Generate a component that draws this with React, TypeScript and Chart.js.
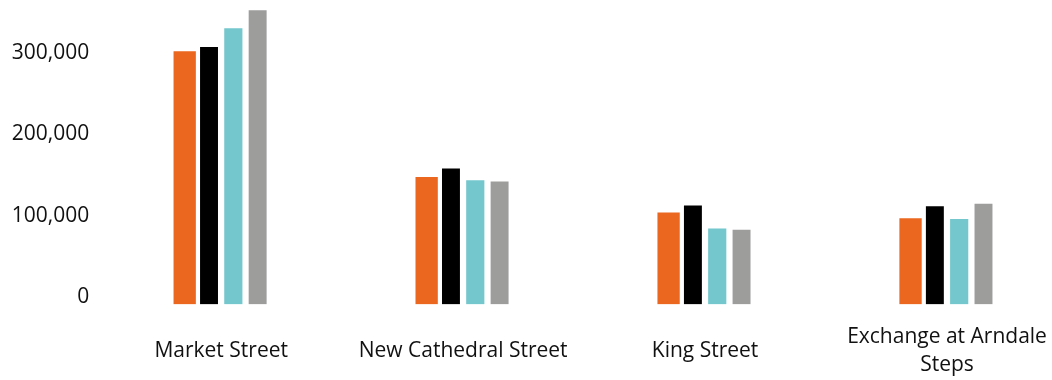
import React, { useEffect, useRef } from "react";
import { Chart, registerables } from "chart.js";

Chart.register(...registerables);

const categories: (string | string[])[] = [
  "Market Street",
  "New Cathedral Street",
  "King Street",
  ["Exchange at Arndale", "Steps"],
];

const seriesNames = ["Series 1", "Series 2", "Series 3", "Series 4"];
const series1 = [312700, 158000, 114300, 107300];
const series2 = [318000, 168400, 123000, 122000];
const series3 = [341000, 154000, 94700, 106500];
const series4 = [363000, 152500, 93000, 125000];

const yTicks = [0, 100000, 200000, 300000];

const colors = ["#EB671F", "#000000", "#73C7CD", "#9D9D9C"];
const barPct = [1.0, 0.82, 0.83, 0.82];

export default function App() {
  const ref = useRef<HTMLCanvasElement | null>(null);

  useEffect(() => {
    if (!ref.current) return;
    const font = "'Open Sans'";
    const all = [series1, series2, series3, series4];
    const chart = new Chart(ref.current, {
      type: "bar",
      data: {
        labels: categories,
        datasets: all.map((d, i) => ({
          label: seriesNames[i],
          data: d,
          backgroundColor: colors[i],
          borderColor: "rgba(255,255,255,0.5)",
          borderWidth: 1,
          barPercentage: barPct[i],
          categoryPercentage: 0.402,
        })),
      },
      options: {
        responsive: false,
        animation: false,
        events: [],
        layout: { autoPadding: false, padding: { top: 4, right: 4, left: 0, bottom: 0 } },
        plugins: { legend: { display: false }, tooltip: { enabled: false } },
        scales: {
          x: {
            grid: { display: false, drawTicks: false },
            border: { display: false },
            ticks: {
              color: "#111111",
              font: { family: font, size: 21, lineHeight: 1.31 },
              padding: 33,
              crossAlign: "center",
              maxRotation: 0,
              autoSkip: false,
            },
            afterFit: (s: any) => {
              s.height = 75.5;
              s.paddingLeft = 0;
              s.paddingRight = 0;
            },
          },
          y: {
            min: 0,
            max: 369500,
            grid: { display: false, drawTicks: false },
            border: { display: false },
            afterBuildTicks: (s: any) => {
              s.ticks = yTicks.map((v) => ({ value: v }));
            },
            ticks: {
              color: "#111111",
              font: { family: font, size: 21, lineHeight: 1.31 },
              padding: 11,
              labelOffset: -7.5,
              callback: (v: any) => Number(v).toLocaleString("en-US"),
            },
            afterFit: (s: any) => {
              s.width = 100.2;
              s.paddingTop = 0;
              s.paddingBottom = 0;
            },
          },
        },
      },
    });
    return () => chart.destroy();
  }, []);

  return (
    <div
      style={{
        position: "fixed",
        left: 0,
        top: 0,
        width: 1052,
        height: 380,
        overflow: "hidden",
        background: "#ffffff",
      }}
    >
      <canvas ref={ref} width={1072} height={380} style={{ display: "block" }} />
    </div>
  );
}
